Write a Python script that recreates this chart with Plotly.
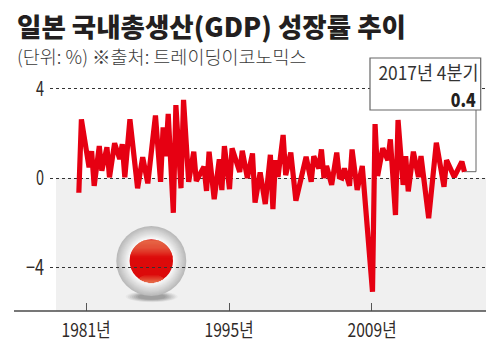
import math
import plotly.graph_objects as go

# Quarters counted from the first plotted quarter, with the GDP growth read at each turning point
start_year = 1980.3
quarter_index = [0,1,4,5,6,8,9,11,12,14,16,17,18,20,23,25,27,30,32,33,34,35,37,38,40,41,43,45,46,49,50,51,53,55,56,57,59,60,63,64,66,68,69,71,73,75,76,77,78,80,81,83,85,89,91,92,94,95,96,97,99,101,102,103,104,106,107,109,111,115,116,117,119,121,122,124,125,127,128,129,131,133,134,137,140,143,144,147,150,151]
growth = [-0.66,2.63,0.48,1.2,-0.35,1.43,0.33,1.38,0.03,1.56,0.85,1.52,0.03,2.63,-0.46,0.93,-0.24,2.8,-0.17,2.27,0.98,2.87,-1.56,3.27,-0.46,3.5,-0.17,1.18,-0.13,0.5,-0.58,1.18,-0.95,0.84,-0.54,1.43,-0.5,1.33,0.27,1.22,0,1.1,-1.1,0.25,-1.17,1.04,-1.4,0.8,0.05,1.93,0.13,1.14,-1.02,0.95,-0.17,0.98,0.43,1.28,0,0.54,-0.31,1.14,0.05,-0.0,0.43,-0.35,1.28,-0.54,0.54,-5.1,2.42,0.09,1.33,0.8,1.73,-1.66,2.6,-0.31,0.98,-0.6,1.18,0.05,0.98,-1.8,1.58,-0.39,0.8,0.05,0.73,0.28]
tick_years = [1981, 1995, 2009]
tick_labels = ["1981년", "1995년", "2009년"]
y_ticks = [-4, 0, 4]
y_tick_labels = ["−4", "0", "4"]
title_text = "일본 국내총생산(GDP) 성장률 추이"
subtitle_text = "(단위: %) ※출처: 트레이딩이코노믹스"
box_period = "2017년 4분기"
box_value = "0.4"

years = [start_year + q / 4 for q in quarter_index]

W, H = 500, 352
L, R, T, B = 50, 486, 60, 311
NARROW = "Noto Sans CJK KR, sans-serif"
KR = "Noto Sans CJK KR, sans-serif"
INK = "#2f2a28"


def px(x):
    return (x - L) / (R - L)


def py(y):
    return (B - y) / (B - T)


shapes = []


def rect(x0, y0, x1, y1, fill, layer="between", line=None):
    shapes.append(dict(type="rect", xref="paper", yref="paper", x0=px(x0), x1=px(x1), y0=py(y0), y1=py(y1),
                       fillcolor=fill, line=line or dict(width=0), layer=layer))


def ellipse(cx, cy, rx, ry, fill, layer="between"):
    shapes.append(dict(type="circle", xref="paper", yref="paper", x0=px(cx - rx), x1=px(cx + rx),
                       y0=py(cy + ry), y1=py(cy - ry), fillcolor=fill, line=dict(width=0), layer=layer))


def mix(a, b, t):
    t = max(0, min(1, t))
    return "rgb(%d,%d,%d)" % tuple(round(a[i] + (b[i] - a[i]) * t) for i in range(3))


# grey band below zero
shapes.append(dict(type="rect", xref="paper", yref="y", x0=px(56), x1=1, y0=0, y1=-5.96,
                   fillcolor="#f0f0f0", line=dict(width=0), layer="below"))
# extended baseline
shapes.append(dict(type="line", xref="paper", yref="paper", x0=px(14), x1=1, y0=0, y1=0,
                   line=dict(color="#4a4a4a", width=1.6), layer="above"))

# Flag button decoration
cx, cy = 151.3, 261.0
for i in range(7):
    t = i / 6
    ellipse(151.7, 296.7, 26 - 12 * t, 5.5 - 2.5 * t, mix((232, 232, 232), (160, 160, 160), t))
ring_r = 35.0
for i in range(14):
    t = i / 13
    ellipse(cx, cy, ring_r - (ring_r - 22.5) * t, ring_r - (ring_r - 22.5) * t,
            mix((186, 186, 186), (250, 250, 250), t))
red_r = 21.7
ellipse(cx, cy, red_r, red_r, "#dc0a0a")
top = cy - red_r
y = top + 1
while y < cy - 4:
    hw = math.sqrt(max(0, red_r ** 2 - (y + 0.5 - cy) ** 2))
    t = (y - top) / (cy - 4 - top)
    rect(cx - hw, y, cx + hw, y + 1.1, mix((232, 122, 84), (220, 10, 10), t ** 1.6))
    y += 1
y = 274.0
while y < cy + red_r - 0.5:
    dy = (y + 0.5 - 284) / 10
    hw = min(math.sqrt(max(0, red_r ** 2 - (y + 0.5 - cy) ** 2)), 15 * math.sqrt(max(0, 1 - dy ** 2)))
    rect(cx - hw, y, cx + hw, y + 1.1, mix((220, 10, 10), (229, 100, 66), (y - 274) / 7))
    y += 1

# Callout
rect(370, 58, 480.7, 110, "white", layer="above", line=dict(color="#666666", width=1.2))
shapes.append(dict(type="line", xref="paper", yref="paper", x0=px(476), x1=px(476), y0=py(110), y1=py(171.7),
                   line=dict(color="#666666", width=1), layer="between"))
shapes.append(dict(type="line", xref="paper", yref="paper", x0=px(476), x1=px(464), y0=py(171.7), y1=py(171.7),
                   line=dict(color="#666666", width=1), layer="between"))

fig = go.Figure(go.Scatter(x=years, y=growth, mode="lines", hoverinfo="skip",
                           line=dict(color="#e60012", width=5.2, shape="linear"),
                           showlegend=False))


def text(x, y, s, size, family, color=INK, anchor="left", weight=None):
    fig.add_annotation(xref="paper", yref="paper", x=px(x), y=py(y), text=s, showarrow=False,
                       xanchor=anchor, yanchor="middle", align=anchor,
                       font=dict(size=size, family=family, color=color, weight=weight))


text(15, 26, title_text, 26.5, KR, "#231f20", weight=900)
text(15, 56, subtitle_text, 18.5, KR, "#3a3a3a", weight=300)
text(480, 72, box_period, 19, NARROW, "#333333", anchor="right")
text(478, 98, box_value, 19, NARROW, "#231f20", anchor="right", weight=900)

fig.update_layout(
    width=W, height=H, margin=dict(l=L, r=W - R, t=T, b=H - B, autoexpand=False),
    paper_bgcolor="white", plot_bgcolor="white", shapes=shapes,
    xaxis=dict(range=[1981 + (L - 86) / 10.214, 1981 + (R - 86) / 10.214], tickvals=tick_years, ticktext=tick_labels,
               ticks="inside", ticklen=8, tickcolor="#555555", tickwidth=1, showgrid=False, zeroline=False,
               showline=False, tickfont=dict(size=19, family=NARROW, color=INK), ticklabelstandoff=6),
    yaxis=dict(range=[(178 - B) / 22.3, (178 - T) / 22.3], tickvals=y_ticks, ticktext=y_tick_labels,
               ticks="", showgrid=True, griddash="dot", gridcolor="#333333", gridwidth=1.2, zeroline=False,
               showline=False, tickfont=dict(size=21, family=NARROW, color=INK), ticklabelstandoff=5),
)
condense = """
document.body.style.margin='0';document.body.style.overflow='hidden';
function squeeze(el,len){el.setAttribute('textLength',len);el.setAttribute('lengthAdjust','spacingAndGlyphs');}
document.querySelectorAll('.xtick text').forEach(function(t){squeeze(t,49);});
var anns=document.querySelectorAll('.annotation-text');
squeeze(anns[2],100);squeeze(anns[3],25);
document.querySelectorAll('.ytick text').forEach(function(t){squeeze(t,t.textContent.length>1?18:8);});
"""
fig.write_html("out.html", post_script=condense, config=dict(displayModeBar=False))
